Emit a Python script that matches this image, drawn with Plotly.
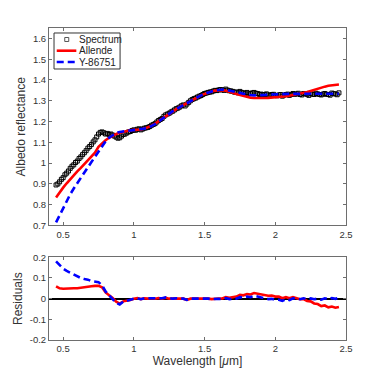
import numpy as np
import plotly.graph_objs as go
from plotly.subplots import make_subplots

# Сетка длин волн спектра [um], шаг 0.0125
wavelength_spec = [
    0.4500, 0.4625, 0.4750, 0.4875, 0.5000, 0.5125, 0.5250, 0.5375, 0.5500, 0.5625,
    0.5750, 0.5875, 0.6000, 0.6125, 0.6250, 0.6375, 0.6500, 0.6625, 0.6750, 0.6875,
    0.7000, 0.7125, 0.7250, 0.7375, 0.7500, 0.7625, 0.7750, 0.7875, 0.8000, 0.8125,
    0.8250, 0.8375, 0.8500, 0.8625, 0.8750, 0.8875, 0.9000, 0.9125, 0.9250, 0.9375,
    0.9500, 0.9625, 0.9750, 0.9875, 1.0000, 1.0125, 1.0250, 1.0375, 1.0500, 1.0625,
    1.0750, 1.0875, 1.1000, 1.1125, 1.1250, 1.1375, 1.1500, 1.1625, 1.1750, 1.1875,
    1.2000, 1.2125, 1.2250, 1.2375, 1.2500, 1.2625, 1.2750, 1.2875, 1.3000, 1.3125,
    1.3250, 1.3375, 1.3500, 1.3625, 1.3750, 1.3875, 1.4000, 1.4125, 1.4250, 1.4375,
    1.4500, 1.4625, 1.4750, 1.4875, 1.5000, 1.5125, 1.5250, 1.5375, 1.5500, 1.5625,
    1.5750, 1.5875, 1.6000, 1.6125, 1.6250, 1.6375, 1.6500, 1.6625, 1.6750, 1.6875,
    1.7000, 1.7125, 1.7250, 1.7375, 1.7500, 1.7625, 1.7750, 1.7875, 1.8000, 1.8125,
    1.8250, 1.8375, 1.8500, 1.8625, 1.8750, 1.8875, 1.9000, 1.9125, 1.9250, 1.9375,
    1.9500, 1.9625, 1.9750, 1.9875, 2.0000, 2.0125, 2.0250, 2.0375, 2.0500, 2.0625,
    2.0750, 2.0875, 2.1000, 2.1125, 2.1250, 2.1375, 2.1500, 2.1625, 2.1750, 2.1875,
    2.2000, 2.2125, 2.2250, 2.2375, 2.2500, 2.2625, 2.2750, 2.2875, 2.3000, 2.3125,
    2.3250, 2.3375, 2.3500, 2.3625, 2.3750, 2.3875, 2.4000, 2.4125, 2.4250, 2.4375,
    2.4500,
]

spectrum = [
    0.895, 0.900, 0.910, 0.922, 0.930, 0.944, 0.952, 0.962, 0.975, 0.985,
    0.992, 1.003, 1.010, 1.022, 1.030, 1.041, 1.050, 1.060, 1.072, 1.080,
    1.090, 1.102, 1.112, 1.126, 1.140, 1.148, 1.150, 1.146, 1.140, 1.143,
    1.138, 1.140, 1.135, 1.130, 1.125, 1.120, 1.122, 1.130, 1.138, 1.140,
    1.145, 1.150, 1.152, 1.157, 1.160, 1.158, 1.163, 1.165, 1.160, 1.164,
    1.168, 1.170, 1.172, 1.176, 1.182, 1.186, 1.190, 1.198, 1.205, 1.210,
    1.215, 1.225, 1.232, 1.236, 1.240, 1.246, 1.250, 1.256, 1.262, 1.265,
    1.270, 1.276, 1.280, 1.275, 1.284, 1.292, 1.300, 1.306, 1.310, 1.313,
    1.318, 1.322, 1.325, 1.330, 1.335, 1.337, 1.340, 1.342, 1.343, 1.347,
    1.350, 1.349, 1.352, 1.354, 1.352, 1.350, 1.356, 1.351, 1.348, 1.347,
    1.345, 1.341, 1.342, 1.338, 1.345, 1.340, 1.338, 1.336, 1.340, 1.333,
    1.335, 1.338, 1.340, 1.336, 1.335, 1.330, 1.332, 1.329, 1.330, 1.333,
    1.328, 1.326, 1.330, 1.331, 1.326, 1.324, 1.328, 1.330, 1.322, 1.327,
    1.330, 1.332, 1.326, 1.330, 1.335, 1.331, 1.333, 1.336, 1.330, 1.328,
    1.335, 1.333, 1.331, 1.326, 1.334, 1.332, 1.330, 1.336, 1.333, 1.330,
    1.328, 1.332, 1.335, 1.331, 1.330, 1.327, 1.337, 1.334, 1.333, 1.329,
    1.338,
]

# Сетка моделей [um], шаг 0.025 (каждая вторая точка спектра)
wavelength = [
    0.450, 0.475, 0.500, 0.525, 0.550, 0.575, 0.600, 0.625, 0.650, 0.675,
    0.700, 0.725, 0.750, 0.775, 0.800, 0.825, 0.850, 0.875, 0.900, 0.925,
    0.950, 0.975, 1.000, 1.025, 1.050, 1.075, 1.100, 1.125, 1.150, 1.175,
    1.200, 1.225, 1.250, 1.275, 1.300, 1.325, 1.350, 1.375, 1.400, 1.425,
    1.450, 1.475, 1.500, 1.525, 1.550, 1.575, 1.600, 1.625, 1.650, 1.675,
    1.700, 1.725, 1.750, 1.775, 1.800, 1.825, 1.850, 1.875, 1.900, 1.925,
    1.950, 1.975, 2.000, 2.025, 2.050, 2.075, 2.100, 2.125, 2.150, 2.175,
    2.200, 2.225, 2.250, 2.275, 2.300, 2.325, 2.350, 2.375, 2.400, 2.425,
    2.450,
]

allende = [
    0.835, 0.860, 0.882, 0.903, 0.923, 0.942, 0.960, 0.977, 0.995, 1.012,
    1.030, 1.050, 1.078, 1.095, 1.110, 1.122, 1.132, 1.140, 1.146, 1.151,
    1.155, 1.158, 1.160, 1.160, 1.162, 1.166, 1.172, 1.180, 1.190, 1.202,
    1.215, 1.228, 1.240, 1.250, 1.260, 1.270, 1.280, 1.290, 1.300, 1.310,
    1.318, 1.326, 1.333, 1.340, 1.345, 1.349, 1.351, 1.351, 1.348, 1.344,
    1.338, 1.332, 1.327, 1.322, 1.318, 1.315, 1.313, 1.312, 1.312, 1.313,
    1.314, 1.315, 1.316, 1.318, 1.320, 1.322, 1.324, 1.327, 1.330, 1.333,
    1.337, 1.342, 1.347, 1.353, 1.359, 1.364, 1.368, 1.372, 1.375, 1.377,
    1.378,
]

y86751 = [
    0.715, 0.750, 0.785, 0.818, 0.850, 0.878, 0.905, 0.930, 0.955, 0.980,
    1.005, 1.030, 1.060, 1.085, 1.105, 1.122, 1.135, 1.145, 1.150, 1.152,
    1.155, 1.157, 1.160, 1.162, 1.163, 1.166, 1.170, 1.178, 1.188, 1.200,
    1.213, 1.226, 1.238, 1.250, 1.260, 1.270, 1.280, 1.290, 1.300, 1.310,
    1.318, 1.326, 1.333, 1.340, 1.345, 1.350, 1.353, 1.354, 1.353, 1.350,
    1.346, 1.342, 1.338, 1.334, 1.330, 1.328, 1.326, 1.326, 1.327, 1.328,
    1.330, 1.331, 1.332, 1.333, 1.333, 1.333, 1.333, 1.333, 1.333, 1.333,
    1.333, 1.333, 1.333, 1.333, 1.333, 1.333, 1.333, 1.333, 1.334, 1.334,
    1.334,
]

# Остатки = спектр - модель (на сетке моделей)
spec_on_grid = np.array(spectrum)[::2]
res_allende = list(spec_on_grid - np.array(allende))
res_y86751 = list(spec_on_grid - np.array(y86751))

font_family = "Liberation Sans, Arial, sans-serif"
axis_color = "#6e6e6e"
text_color = "#333333"
blue_dash = "7px,4px"

fig = make_subplots(rows=2, cols=1)

# Верхний график: спектр и модели
fig.add_trace(go.Scatter(
    x=wavelength_spec, y=spectrum, mode="markers", name="Spectrum",
    marker={"symbol": "square-open", "size": 4, "color": "black",
            "line": {"width": 1, "color": "black"}},
), row=1, col=1)
fig.add_trace(go.Scatter(
    x=wavelength, y=allende, mode="lines", name="Allende",
    line={"color": "#ff0000", "width": 2.6},
), row=1, col=1)
fig.add_trace(go.Scatter(
    x=wavelength, y=y86751, mode="lines", name="Y-86751",
    line={"color": "#0000ff", "width": 2.6, "dash": blue_dash},
), row=1, col=1)

# Нижний график: остатки
fig.add_trace(go.Scatter(
    x=wavelength, y=res_allende, mode="lines",
    line={"color": "#ff0000", "width": 2.6},
), row=2, col=1)
fig.add_trace(go.Scatter(
    x=wavelength, y=res_y86751, mode="lines",
    line={"color": "#0000ff", "width": 2.6, "dash": blue_dash},
), row=2, col=1)

axis_style = {
    "showline": True, "linecolor": axis_color, "linewidth": 1, "mirror": "allticks",
    "ticks": "inside", "ticklen": 3, "tickcolor": axis_color,
    "showgrid": False, "zeroline": False, "automargin": False,
    "tickfont": {"size": 9.5, "color": text_color, "family": font_family},
}

fig.update_xaxes(axis_style)
fig.update_yaxes(axis_style)

title_font = {"size": 12, "color": text_color, "family": font_family}

fig.update_layout(
    xaxis={"domain": [0, 1], "range": [0.4, 2.5], "tickvals": [0.5, 1, 1.5, 2, 2.5],
           "anchor": "y"},
    yaxis={"domain": [0.367, 1.0], "range": [0.7, 1.65], "dtick": 0.1, "tick0": 0.7,
           "title": {"text": "Albedo reflectance", "standoff": 4, "font": title_font}},
    xaxis2={"domain": [0, 1], "range": [0.4, 2.5], "tickvals": [0.5, 1, 1.5, 2, 2.5],
            "anchor": "y2",
            "title": {"text": "Wavelength [<i>μ</i>m]", "standoff": 1, "font": title_font}},
    yaxis2={"domain": [0, 0.265], "range": [-0.2, 0.2],
            "tickvals": [-0.2, -0.1, 0, 0.1, 0.2],
            "ticktext": ["-0.2", "-0.1", "0", "0.1", "0.2"],
            "zeroline": True, "zerolinecolor": "black", "zerolinewidth": 1.5,
            "title": {"text": "Residuals", "standoff": 4, "font": title_font}},
)

# Легенда в стиле MATLAB (компактная рамка)
legend_rows = [("Spectrum", 0.9632), ("Allende", 0.9272), ("Y-86751", 0.8910)]
shapes = [
    {"type": "rect", "xref": "paper", "yref": "paper",
     "x0": 0.0169, "x1": 0.2393, "y0": 0.8686, "y1": 0.984,
     "line": {"color": "#333333", "width": 1}, "fillcolor": "white", "layer": "above"},
    {"type": "rect", "xref": "paper", "yref": "paper",
     "x0": 0.0530, "x1": 0.0665, "y0": 0.9568, "y1": 0.9696,
     "line": {"color": "#555555", "width": 1}, "fillcolor": "white", "layer": "above"},
    {"type": "line", "xref": "paper", "yref": "paper",
     "x0": 0.026, "x1": 0.092, "y0": 0.9272, "y1": 0.9272,
     "line": {"color": "#ff0000", "width": 2.6}, "layer": "above"},
    {"type": "line", "xref": "paper", "yref": "paper",
     "x0": 0.026, "x1": 0.092, "y0": 0.8910, "y1": 0.8910,
     "line": {"color": "#0000ff", "width": 2.6, "dash": blue_dash}, "layer": "above"},
]
annotations = [
    {"text": name, "xref": "paper", "yref": "paper", "x": 0.094, "y": yy,
     "xanchor": "left", "yanchor": "middle", "showarrow": False,
     "font": {"size": 10, "color": "#222222", "family": font_family}}
    for name, yy in legend_rows
]

# Отступы с учётом 8px поля страницы
fig.update_layout(
    width=382, height=382, autosize=False,
    margin={"l": 41, "r": 44, "t": 20, "b": 50},
    plot_bgcolor="white", paper_bgcolor="white",
    font={"family": font_family, "size": 10, "color": text_color},
    showlegend=False,
    shapes=shapes,
    annotations=annotations,
)

fig.write_html("out.html")
